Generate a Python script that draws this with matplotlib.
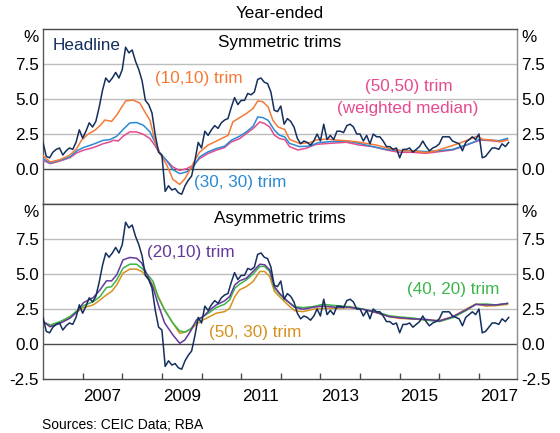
import numpy as np
import matplotlib
matplotlib.use("Agg")
import matplotlib.pyplot as plt

plt.rcParams['font.family'] = ['Liberation Sans', 'DejaVu Sans']

# ---------------- data ----------------
start_year = 2006.0   # first monthly observation: Jan 2006
headline = [
    1.9, 0.9, 0.8, 1.2, 1.4, 1.5, 1.0, 1.3, 1.5, 1.4, 1.9, 2.8,
    2.2, 2.7, 3.3, 3.0, 3.4, 4.4, 5.6, 6.5, 6.2, 6.5, 6.9, 6.5,
    7.1, 8.7, 8.3, 8.5, 7.7, 7.1, 6.3, 4.9, 4.6, 4.0, 2.4, 1.2,
    1.0, -1.6, -1.2, -1.5, -1.4, -1.7, -1.8, -1.2, -0.8, -0.5, 0.6, 1.9,
    1.5, 2.7, 2.4, 2.8, 3.1, 2.9, 3.3, 3.5, 3.6, 4.4, 5.1, 4.6,
    4.9, 4.9, 5.4, 5.3, 5.5, 6.4, 6.5, 6.2, 6.1, 5.5, 4.2, 4.1,
    4.5, 3.2, 3.6, 3.4, 3.0, 2.2, 1.8, 2.0, 1.9, 1.7, 2.0, 2.5,
    2.0, 3.2, 2.1, 2.4, 2.1, 2.7, 2.7, 2.6, 3.1, 3.2, 3.0, 2.5,
    2.5, 2.0, 2.4, 1.8, 2.5, 2.3, 2.3, 2.0, 1.6, 1.6, 1.4, 1.5,
    0.8, 1.4, 1.4, 1.5, 1.2, 1.4, 1.6, 2.0, 1.6, 1.3, 1.5, 1.6,
    1.8, 2.3, 2.3, 2.3, 2.0, 1.9, 1.8, 1.3, 1.9, 2.1, 2.3, 2.1,
    2.5, 0.8, 0.9, 1.2, 1.5, 1.5, 1.4, 1.8, 1.6, 1.9,
]

# (10,10) trim
t1010_dates = [2006.0, 2006.18, 2006.43, 2006.68, 2006.85, 2006.97, 2007.14, 2007.31, 2007.44, 2007.56,
               2007.73, 2007.86, 2007.98, 2008.09, 2008.27, 2008.44, 2008.57, 2008.70, 2008.82, 2008.95,
               2009.12, 2009.28, 2009.45, 2009.58, 2009.70, 2009.83, 2009.95, 2010.16, 2010.33, 2010.50,
               2010.67, 2010.79, 2010.96, 2011.13, 2011.30, 2011.42, 2011.55, 2011.68, 2011.80, 2011.93,
               2012.10, 2012.22, 2012.47, 2012.73, 2012.89, 2013.15, 2013.40, 2013.65, 2013.90, 2014.15,
               2014.41, 2014.66, 2014.91, 2015.12, 2015.33, 2015.66, 2015.92, 2016.25, 2016.50, 2016.76,
               2016.97, 2017.09, 2017.34, 2017.51, 2017.72]
t1010_vals = [0.95, 0.5, 0.67, 1.0, 1.45, 2.05, 2.5, 2.77, 3.1, 3.5,
              3.4, 3.85, 4.4, 4.87, 4.92, 4.72, 4.08, 3.48, 2.05, 1.1,
              0.3, -0.75, -1.1, -0.7, -0.1, 0.62, 1.2, 1.7, 1.93, 2.17,
              2.4, 3.36, 3.67, 3.96, 4.32, 4.87, 4.8, 4.44, 3.48, 3.0,
              2.82, 2.12, 1.83, 1.88, 2.07, 2.14, 2.07, 2.02, 1.95, 1.83,
              1.71, 1.52, 1.36, 1.31, 1.29, 1.17, 1.31, 1.6, 1.83, 2.12,
              2.36, 2.12, 2.07, 1.95, 2.07]

# (30,30) trim
t3030_dates = [2006.0, 2006.18, 2006.43, 2006.68, 2006.85, 2007.02, 2007.27, 2007.52, 2007.69, 2007.86,
               2008.02, 2008.19, 2008.36, 2008.53, 2008.70, 2008.82, 2008.95, 2009.12, 2009.28, 2009.45,
               2009.62, 2009.79, 2009.95, 2010.16, 2010.37, 2010.58, 2010.75, 2010.96, 2011.13, 2011.30,
               2011.42, 2011.55, 2011.68, 2011.84, 2011.97, 2012.10, 2012.22, 2012.47, 2012.73, 2012.94,
               2013.23, 2013.65, 2013.98, 2014.32, 2014.66, 2014.99, 2015.33, 2015.66, 2016.0, 2016.34,
               2016.59, 2016.84, 2017.01, 2017.26, 2017.51, 2017.72]
t3030_vals = [0.74, 0.43, 0.62, 0.86, 1.29, 1.53, 1.77, 2.05, 2.1, 2.34,
              2.82, 3.29, 3.32, 3.13, 2.65, 1.93, 1.15, 0.6, -0.05, -0.33,
              -0.21, 0.14, 0.86, 1.22, 1.46, 1.62, 2.05, 2.34, 2.65, 3.05,
              3.72, 3.67, 3.48, 2.77, 2.41, 2.29, 1.83, 1.6, 1.64, 1.88,
              1.95, 2.0, 1.83, 1.6, 1.4, 1.31, 1.31, 1.24, 1.31, 1.4,
              1.64, 1.88, 2.12, 2.07, 2.02, 2.19]

# (50,50) trim (weighted median)
t5050_dates = [2006.0, 2006.18, 2006.43, 2006.68, 2006.85, 2007.02, 2007.27, 2007.52, 2007.69, 2007.77,
               2007.90, 2008.02, 2008.19, 2008.36, 2008.53, 2008.70, 2008.82, 2008.95, 2009.12, 2009.28,
               2009.45, 2009.62, 2009.79, 2009.95, 2010.16, 2010.37, 2010.58, 2010.75, 2010.96, 2011.13,
               2011.30, 2011.47, 2011.59, 2011.72, 2011.84, 2011.97, 2012.10, 2012.22, 2012.43, 2012.64,
               2012.89, 2013.23, 2013.65, 2013.98, 2014.32, 2014.66, 2014.99, 2015.33, 2015.66, 2016.0,
               2016.34, 2016.59, 2016.84, 2017.05, 2017.30, 2017.55, 2017.72]
t5050_vals = [0.62, 0.38, 0.57, 0.81, 1.15, 1.34, 1.53, 1.81, 1.93, 2.05,
              2.0, 2.34, 2.65, 2.65, 2.48, 2.17, 1.69, 1.1, 0.6, 0.14,
              -0.1, 0.02, 0.26, 0.74, 1.1, 1.34, 1.53, 1.93, 2.17, 2.53,
              2.89, 3.36, 3.25, 3.0, 2.41, 2.17, 2.1, 1.6, 1.36, 1.48,
              1.76, 1.83, 1.91, 1.71, 1.6, 1.36, 1.19, 1.19, 1.12, 1.24,
              1.36, 1.6, 1.88, 2.07, 2.02, 1.95, 2.1]

# Asymmetric trims share one set of dates
asym_dates = [2006.0, 2006.18, 2006.43, 2006.68, 2006.85, 2007.02, 2007.27, 2007.44, 2007.60, 2007.73,
              2007.86, 2008.02, 2008.19, 2008.36, 2008.49, 2008.61, 2008.78, 2008.91, 2009.07, 2009.28,
              2009.45, 2009.58, 2009.74, 2009.87, 2010.04, 2010.21, 2010.37, 2010.58, 2010.71, 2010.84,
              2010.96, 2011.13, 2011.30, 2011.47, 2011.59, 2011.72, 2011.84, 2011.97, 2012.14, 2012.35,
              2012.56, 2012.81, 2013.06, 2013.40, 2013.73, 2014.07, 2014.40, 2014.74, 2014.99, 2015.33,
              2015.66, 2016.0, 2016.34, 2016.67, 2016.92, 2017.18, 2017.43, 2017.72]
t2010_vals = [1.6, 1.24, 1.48, 1.84, 2.27, 2.95, 3.32, 3.87, 4.51, 4.51,
              4.94, 6.01, 6.18, 6.13, 5.78, 5.06, 3.99, 2.79, 1.5, 0.64,
              0.05, 0.29, 1.0, 1.72, 1.96, 2.43, 2.79, 3.08, 3.39, 4.22,
              4.51, 4.7, 5.18, 5.7, 5.66, 5.3, 4.1, 3.62, 3.14, 2.62,
              2.48, 2.62, 2.71, 2.62, 2.62, 2.48, 2.26, 1.95, 1.88, 1.79,
              1.76, 1.64, 1.95, 2.43, 2.83, 2.79, 2.79, 2.9]
t4020_vals = [1.6, 1.36, 1.6, 1.96, 2.36, 2.74, 3.03, 3.39, 4.03, 4.1,
              4.58, 5.42, 5.7, 5.7, 5.42, 5.06, 4.46, 3.3, 2.43, 1.48,
              0.93, 0.85, 1.12, 1.6, 1.96, 2.27, 2.6, 2.84, 3.15, 3.99,
              4.27, 4.58, 4.99, 5.54, 5.54, 5.18, 3.99, 3.55, 3.1, 2.67,
              2.6, 2.67, 2.83, 2.74, 2.67, 2.5, 2.31, 2.02, 1.93, 1.86,
              1.71, 1.6, 1.88, 2.38, 2.83, 2.86, 2.79, 2.9]
t5030_vals = [1.6, 1.24, 1.53, 1.89, 2.27, 2.6, 2.79, 3.15, 3.51, 3.75,
              4.22, 5.06, 5.35, 5.35, 5.18, 4.82, 4.22, 3.39, 2.43, 1.48,
              0.76, 0.84, 1.07, 1.41, 1.72, 1.96, 2.2, 2.31, 2.55, 3.39,
              3.87, 4.1, 4.46, 5.18, 5.18, 4.82, 3.75, 3.38, 2.9, 2.38,
              2.31, 2.48, 2.55, 2.55, 2.6, 2.48, 2.24, 1.95, 1.83, 1.79,
              1.71, 1.67, 1.95, 2.48, 2.86, 2.71, 2.74, 2.83]

year_ticks = list(range(2007, 2018))
year_labels = ['2007', '2009', '2011', '2013', '2015', '2017']
y_top_ticks = [0.0, 2.5, 5.0, 7.5]
y_bot_ticks = [-2.5, 0.0, 2.5, 5.0, 7.5]

# ---------------- style ----------------
C_HEAD = '#142e5e'
C_1010 = '#f47a36'
C_3030 = '#2b8ad2'
C_5050 = '#e54b8e'
C_2010 = '#64399a'
C_4020 = '#3cb54a'
C_5030 = '#d6921f'
GRID = '#bdbdbd'
DARK = '#4a4a4a'
FS = 12.3

W, H = 560, 433
fig = plt.figure(figsize=(W / 100, H / 100), dpi=100)
ax1 = fig.add_axes([43 / W, 1 - 204 / H, 474 / W, 175 / H])
ax2 = fig.add_axes([43 / W, 1 - 379 / H, 474 / W, 175 / H])

head_x = start_year + np.arange(len(headline)) / 12.0


def style(ax, ticks):
    ax.set_xlim(2006.0, 2017.96)
    ax.set_ylim(-2.5, 10)
    for v in (2.5, 5.0, 7.5):
        ax.axhline(v, color=GRID, lw=1.0, zorder=0)
    ax.axhline(0.0, color=DARK, lw=1.0, zorder=1)
    ax.spines['top'].set_color(DARK)
    ax.spines['bottom'].set_color(DARK)
    ax.spines['left'].set_color('#5a5a5a')
    ax.spines['right'].set_color('#8c8c8c')
    for s in ax.spines.values():
        s.set_linewidth(1.0)
    ax.set_yticks(ticks)
    ax.set_yticklabels([f'{t:.1f}' for t in ticks])
    ax.tick_params(axis='y', which='both', length=0, labelsize=FS, pad=3,
                   left=True, right=True, labelleft=True, labelright=True)
    for sx, ha in ((-4 / 474, 'right'), (1 + 4 / 474, 'left')):
        ax.text(sx, 9.36, '%', transform=ax.get_yaxis_transform(), ha=ha,
                va='center', fontsize=FS)


style(ax1, y_top_ticks)
style(ax2, y_bot_ticks)

ax1.tick_params(axis='x', which='both', bottom=False, labelbottom=False)

ax2.set_xticks(year_ticks)
ax2.set_xticklabels([])
ax2.set_xticks([int(l) + 0.5 for l in year_labels], minor=True)
ax2.set_xticklabels(year_labels, minor=True)
ax2.tick_params(axis='x', which='major', direction='in', length=4.5,
                color=DARK, width=1.0)
ax2.tick_params(axis='x', which='minor', length=0, labelsize=FS, pad=7)

lw_h = 1.1
lw_t = 1.1
# top panel
ax1.plot(t5050_dates, t5050_vals, color=C_5050, lw=lw_t, zorder=3)
ax1.plot(t3030_dates, t3030_vals, color=C_3030, lw=lw_t, zorder=4)
ax1.plot(t1010_dates, t1010_vals, color=C_1010, lw=lw_t, zorder=5)
ax1.plot(head_x, headline, color=C_HEAD, lw=lw_h, zorder=6)
# bottom panel
ax2.plot(asym_dates, t5030_vals, color=C_5030, lw=lw_t, zorder=3)
ax2.plot(asym_dates, t4020_vals, color=C_4020, lw=lw_t, zorder=4)
ax2.plot(asym_dates, t2010_vals, color=C_2010, lw=lw_t, zorder=5)
ax2.plot(head_x, headline, color=C_HEAD, lw=lw_h, zorder=6)

# annotations
ax1.text(0.5, 9.0, 'Symmetric trims', transform=ax1.get_yaxis_transform(),
         ha='center', va='center', fontsize=FS)
ax1.text(2006.25, 8.79, 'Headline', color=C_HEAD, ha='left', va='center', fontsize=FS)
ax1.text(2008.82, 6.5, '(10,10) trim', color=C_1010, ha='left', va='center', fontsize=FS)
ax1.text(2009.80, -1.0, '(30, 30) trim', color=C_3030, ha='left', va='center', fontsize=FS)
ax1.text(2015.24, 5.86, '(50,50) trim', color=C_5050, ha='center', va='center', fontsize=FS)
ax1.text(2015.19, 4.29, '(weighted median)', color=C_5050, ha='center', va='center', fontsize=FS)

ax2.text(0.5, 8.93, 'Asymmetric trims', transform=ax2.get_yaxis_transform(),
         ha='center', va='center', fontsize=FS)
ax2.text(2008.62, 6.5, '(20,10) trim', color=C_2010, ha='left', va='center', fontsize=FS)
ax2.text(2010.18, 0.79, '(50, 30) trim', color=C_5030, ha='left', va='center', fontsize=FS)
ax2.text(2015.19, 3.86, '(40, 20) trim', color=C_4020, ha='left', va='center', fontsize=FS)

fig.text(280 / W, 1 - 14 / H, 'Year-ended', ha='center', va='center', fontsize=FS)
fig.text(42 / W, 1 - 425 / H, 'Sources: CEIC Data; RBA', ha='left', va='center', fontsize=10)

fig.savefig('out.png', dpi=100)
